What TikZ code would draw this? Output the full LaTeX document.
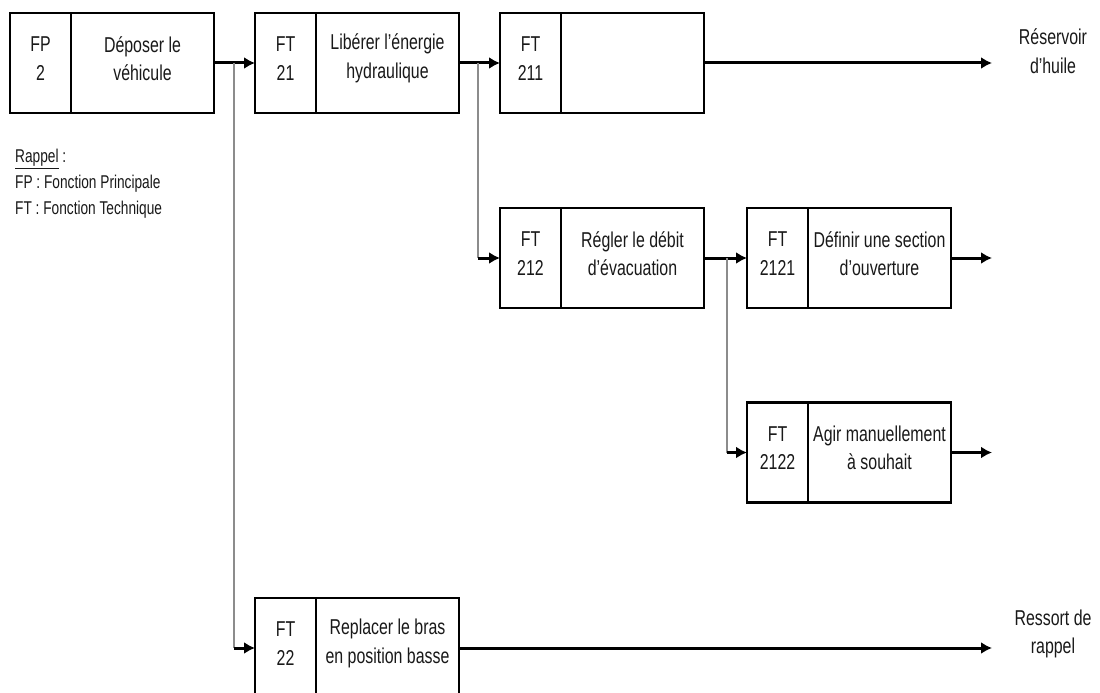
\documentclass[tikz,border=0pt]{standalone}
\usepackage{fontspec}
\setmainfont{Liberation Sans}[FakeStretch=0.74]
\usetikzlibrary{positioning,arrows.meta}
\tikzset{
  wire/.style={line width=3pt, -{Latex[length=11pt,width=12pt]}},
  link/.style={line width=2.2pt, draw=black!45},
  idbox/.style={draw, line width=2.8pt, outer sep=0pt, inner sep=0pt, minimum width=61pt, minimum height=100pt},
  descbox/.style={draw, line width=2.8pt, outer sep=0pt, inner sep=0pt, minimum width=143pt, minimum height=100pt},
  lbl/.style={align=center, inner sep=0pt, text=black!90, font=\fontsize{21.5}{28.5}\selectfont},
  legend/.style={align=left, inner sep=0pt, text=black!90, font=\fontsize{18.5}{26}\selectfont}
}

\begin{document}
\begin{tikzpicture}[x=1pt,y=-1pt]
  \useasboundingbox[fill=white] (0,0) rectangle (1100,693);
  % boxes
  \node[idbox] (fp2a) at (40.5,63) {};
  \node[descbox, right=0pt of fp2a] (fp2b) {};
  \node[idbox] (ft21a) at (285.5,63) {};
  \node[descbox, right=0pt of ft21a] (ft21b) {};
  \node[idbox] (ft211a) at (530.5,63) {};
  \node[descbox, right=0pt of ft211a] (ft211b) {};
  \node[idbox] (ft212a) at (530.5,258) {};
  \node[descbox, right=0pt of ft212a] (ft212b) {};
  \node[idbox] (ft2121a) at (777.5,258) {};
  \node[descbox, right=0pt of ft2121a] (ft2121b) {};
  \node[idbox] (ft2122a) at (777.5,452.5) {};
  \node[descbox, right=0pt of ft2122a] (ft2122b) {};
  \node[idbox] (ft22a) at (285.5,648) {};
  \node[descbox, right=0pt of ft22a] (ft22b) {};
  % texts
  \node[lbl] (fp2id) at ([yshift=4.5pt]fp2a.center) {FP\\2};
  \node[lbl] (fp2txt) at ([yshift=4.5pt]fp2b.center) {Déposer le\\véhicule};
  \node[lbl] (ft21id) at ([yshift=4.5pt]ft21a.center) {FT\\21};
  \node[lbl] (ft21txt) at ([yshift=4.5pt]ft21b.center) {Libérer l’énergie\\hydraulique};
  \node[lbl] (ft211id) at ([yshift=4.5pt]ft211a.center) {FT\\211};
  \node[lbl] (ft212id) at ([yshift=4.5pt]ft212a.center) {FT\\212};
  \node[lbl] (ft212txt) at ([yshift=4.5pt]ft212b.center) {Régler le débit\\d’évacuation};
  \node[lbl] (ft2121id) at ([yshift=4.5pt]ft2121a.center) {FT\\2121};
  \node[lbl] (ft2121txt) at ([yshift=4.5pt]ft2121b.center) {Définir une section\\d’ouverture};
  \node[lbl] (ft2122id) at ([yshift=4.5pt]ft2122a.center) {FT\\2122};
  \node[lbl] (ft2122txt) at ([yshift=4.5pt]ft2122b.center) {Agir manuellement\\à souhait};
  \node[lbl] (ft22id) at ([yshift=4.5pt]ft22a.center) {FT\\22};
  \node[lbl] (ft22txt) at ([yshift=4.5pt]ft22b.center) {Replacer le bras\\en position basse};
  % outputs
  \node[lbl] (reservoir) at (1053,51) {Réservoir\\d’huile};
  \node[lbl] (ressort) at (1053,634) {Ressort de\\rappel};
  \coordinate (e1) at (992,63);
  \coordinate (e2) at (992,258);
  \coordinate (e3) at (992,452.5);
  \coordinate (e4) at (992,648);
  % legend
  \node[legend, anchor=north west] (rappel) at (15,149) {\underline{Rappel} :\\FP : Fonction Principale\\FT : Fonction Technique};
  % arrows
  \draw[wire] (fp2b.east) -- (ft21a.west);
  \draw[wire] (ft21b.east) -- (ft211a.west);
  \draw[wire] (ft212b.east) -- (ft2121a.west);
  \draw[wire] (ft211b.east) -- (e1);
  \draw[wire] (ft2121b.east) -- (e2);
  \draw[wire] (ft2122b.east) -- (e3);
  \draw[wire] (ft22b.east) -- (e4);
  % branches
  \coordinate (j1) at (234,63);
  \coordinate (j2) at (478,63);
  \coordinate (j3) at (727,258);
  \coordinate (k1) at (j1 |- ft22a.west);
  \coordinate (k2) at (j2 |- ft212a.west);
  \coordinate (k3) at (j3 |- ft2122a.west);
  \draw[link] (j1) -- (k1);
  \draw[link] (j2) -- (k2);
  \draw[link] (j3) -- (k3);
  \draw[wire] (k1) -- (ft22a.west);
  \draw[wire] (k2) -- (ft212a.west);
  \draw[wire] (k3) -- (ft2122a.west);
\end{tikzpicture}
\end{document}
